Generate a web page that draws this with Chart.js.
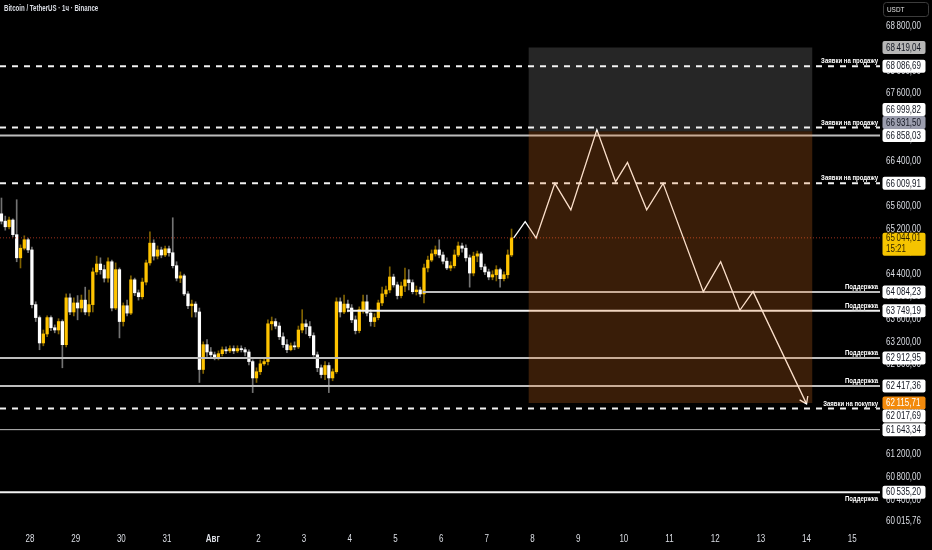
<!DOCTYPE html>
<html>
<head>
<meta charset="utf-8">
<script src="https://cdn.jsdelivr.net/npm/chart.js@4.4.1/dist/chart.umd.min.js"></script>
<style>
  html, body { margin: 0; padding: 0; background: #000; }
  #wrap { width: 932px; height: 550px; }
</style>
</head>
<body>
<div id="wrap"><canvas id="c" width="932" height="550"></canvas></div>
<script>
// BTC/USDT, candles every 2h starting Jul 27 08:00 (x axis = days from Jul 28 00:00)
const candleStart = -16 / 24
const candleStep = 2 / 24

const opens = [65470,65340,65240,65360,65100,64690,64860,65010,64830,63860,
  63630,63180,63340,63630,63450,63410,63560,63150,63980,63730,
  63890,63800,63940,63730,63860,64440,64580,64480,64330,64620,
  63800,64480,63560,63840,63710,64300,64070,64000,64260,64600,
  64950,64720,64830,64740,64850,64780,64550,64330,64370,64050,
  63840,63870,63730,62710,63150,63020,62970,62920,62990,63060,
  63040,63080,63040,63080,63060,63020,62850,62560,62670,62810,
  62850,63520,63560,63480,63290,63150,63060,63130,63110,63410,
  63520,63470,63310,62970,62740,62620,62780,62560,62670,63910,
  63730,63870,63800,63590,63400,63770,63910,63710,63560,63630,
  63890,64050,64120,64350,64210,64020,64190,64300,64250,64090,
  64120,64050,64510,64650,64760,64830,64740,64630,64510,64550,
  64740,64900,64860,64690,64420,64720,64760,64530,64440,64350,
  64390,64480,64320,64390,64740]
const highs = [65750,65430,65410,65380,65720,64920,65080,65040,64880,63910,
  63660,63410,63660,63660,63500,63610,63590,64050,64050,63980,
  64020,64030,64170,64120,64510,64720,64690,64560,64690,64650,
  64600,64510,63890,63940,64370,64330,64120,64330,64650,65150,
  65010,64900,64880,64900,64900,65400,64620,64440,64400,64090,
  63940,63910,63800,63200,63240,63100,63020,63040,63110,63110,
  63130,63130,63130,63130,63100,63060,62880,62740,62880,62920,
  63590,63640,63610,63540,63360,63240,63180,63200,63480,63770,
  63590,63560,63360,63020,62790,62850,62830,62720,63980,63980,
  64030,63940,63860,63660,63820,64030,64030,63770,63700,63940,
  64170,64190,64530,64400,64260,64260,64510,64480,64300,64190,
  64170,64580,64720,64830,64900,65010,64790,64690,64620,64830,
  64970,64950,64920,64740,64790,64810,64790,64580,64490,64460,
  64550,64510,64440,64830,65200]
const lows = [65290,65180,65200,65060,64620,64510,64830,64780,63800,63560,
  63060,63130,63290,63400,63360,63340,62740,63110,63680,63660,
  63590,63730,63680,63660,63730,64390,64400,64260,64260,63750,
  63770,63270,63480,63660,63680,64020,63940,63960,64210,64560,
  64650,64670,64690,64710,64720,64510,64280,64250,64020,63790,
  63640,63640,62480,62640,62940,62920,62880,62880,62950,62990,
  63010,62990,63010,63020,62950,62790,62300,62480,62620,62780,
  62790,63410,63430,63240,63100,63010,63040,63060,63080,63360,
  63340,63270,62940,62670,62560,62530,62300,62510,62640,63640,
  63700,63730,63540,63340,63360,63710,63660,63480,63470,63590,
  63840,64000,64070,64170,63960,63980,64090,64120,64050,64030,
  64000,63890,64440,64620,64720,64690,64580,64480,64460,64510,
  64710,64790,64630,64170,64370,64620,64480,64390,64300,64300,
  64280,64170,64280,64330,64710]
const closes = [65340,65240,65360,65100,64690,64860,65010,64830,63860,63630,
  63180,63340,63630,63450,63410,63560,63150,63980,63730,63890,
  63800,63940,63730,63860,64440,64580,64480,64330,64620,63800,
  64480,63560,63840,63710,64300,64070,64000,64260,64600,64950,
  64720,64830,64740,64850,64780,64550,64330,64370,64050,63840,
  63870,63730,62710,63150,63020,62970,62920,62990,63060,63040,
  63080,63040,63080,63060,63020,62850,62560,62670,62810,62850,
  63520,63560,63480,63290,63150,63060,63130,63110,63410,63520,
  63470,63310,62970,62740,62620,62780,62560,62670,63910,63730,
  63870,63800,63590,63400,63770,63910,63710,63560,63630,63890,
  64050,64120,64350,64210,64020,64190,64300,64250,64090,64120,
  64050,64510,64650,64760,64830,64740,64630,64510,64550,64740,
  64900,64860,64690,64420,64720,64760,64530,64440,64350,64390,
  64480,64320,64390,64740,65044.01]

const dayLabels = ['28','29','30','31','Авг','2','3','4','5','6','7','8','9','10','11','12','13','14','15']
const xMin = -0.657
const xMax = 18.608
const yMin = 59864
const yMax = 69261
const priceStep = 400

// horizontal levels drawn on the chart
const levelPrices = [68086.69, 66999.82, 66858.03, 66009.91, 64084.23, 63749.19, 62912.95, 62417.36, 62017.69, 61643.34, 60535.20]
const levelNotes = ['Заявки на продажу','Заявки на продажу','','Заявки на продажу','Поддержка','Поддержка','Поддержка','Поддержка','Заявки на покупку','','Поддержка']
const levelFrom = [null, null, null, null, 8.6, 6.94, null, null, null, null, null]

const lastPrice = 65044.01
const countdown = '15:21'
const bottomPrice = 60015.76

// projected path
const pathDays = [10.59, 10.84, 11.08, 11.49, 11.84, 12.41, 12.82, 13.08, 13.5, 13.86, 14.74, 15.12, 15.54, 15.83, 17.0]
const pathPrices = [65044.01, 65330, 65040, 66010, 65540, 66960, 66040, 66380, 65540, 66010, 64090, 64620, 63760, 64090, 62100]

// position tool
const boxDays = [10.917, 17.125]
const boxStop = 68419.04
const boxEntry = 66931.50
const boxTarget = 62115.71

const FONT = '"Liberation Sans", Arial, sans-serif'
const UP = '#ffc400', DOWN = '#ffffff'
const NARROW = 0.8

function fmt(p) {
  const parts = p.toFixed(2).split('.')
  return parts[0].replace(/\B(?=(\d{3})+(?!\d))/g, '\u2009') + ',' + parts[1]
}

function narrowText(ctx, s, x, y, k) {
  ctx.save()
  ctx.translate(x, y)
  ctx.scale(k, 1)
  ctx.fillText(s, 0, 0)
  ctx.restore()
}

const candleX = opens.map((o, i) => candleStart + candleStep * (i + 0.5))
const isUp = opens.map((o, i) => closes[i] >= o)

const datasets = []
datasets.push({
  type: 'bar', order: 20, grouped: false, barThickness: 1,
  data: candleX.map((x, i) => ({ x: x, y: [lows[i], highs[i]] })),
  backgroundColor: isUp.map(u => u ? 'rgba(255,196,0,0.5)' : 'rgba(210,210,210,0.55)')
})
datasets.push({
  type: 'bar', order: 19, grouped: false, barThickness: 2.6, minBarLength: 1,
  data: candleX.map((x, i) => ({ x: x, y: [opens[i], closes[i]] })),
  backgroundColor: isUp.map(u => u ? UP : DOWN)
})

const whiteLevels = [63749.19, 60535.20]
levelPrices.forEach((p, i) => {
  const dashed = levelNotes[i].startsWith('Заявки')
  const white = dashed || whiteLevels.includes(p)
  datasets.push({
    type: 'line', order: 10,
    data: [{ x: levelFrom[i] ?? xMin, y: p }, { x: xMax, y: p }],
    borderColor: white ? '#f2f2f2' : '#bdbdbd',
    borderWidth: p === 61643.34 ? 1 : 2,
    borderDash: dashed ? [6, 6] : [],
    pointRadius: 0
  })
})
datasets.push({
  type: 'line', order: 9,
  data: [{ x: xMin, y: lastPrice }, { x: xMax, y: lastPrice }],
  borderColor: '#a0321e', borderWidth: 1, borderDash: [1, 2], pointRadius: 0
})
datasets.push({
  type: 'line', order: 8,
  data: pathDays.map((d, i) => ({ x: d, y: pathPrices[i] })),
  borderColor: '#ffffff', borderWidth: 1.3, pointRadius: 0, tension: 0
})
const pathIndex = datasets.length - 1

const overlay = {
  id: 'overlay',
  afterDatasetsDraw(chart) {
    const { ctx, scales: { x, y }, chartArea } = chart
    const x0 = x.getPixelForValue(boxDays[0]), x1 = x.getPixelForValue(boxDays[1])
    ctx.save()
    // arrow head at end of path
    const pts = chart.getDatasetMeta(pathIndex).data
    const a = pts[pts.length - 2], b = pts[pts.length - 1]
    const ang = Math.atan2(b.y - a.y, b.x - a.x)
    ctx.strokeStyle = '#ffffff'; ctx.lineWidth = 1.3
    ctx.beginPath()
    ctx.moveTo(b.x - 8 * Math.cos(ang - 0.6), b.y - 8 * Math.sin(ang - 0.6))
    ctx.lineTo(b.x, b.y)
    ctx.lineTo(b.x - 8 * Math.cos(ang + 0.6), b.y - 8 * Math.sin(ang + 0.6))
    ctx.stroke()
    // position boxes
    const yS = y.getPixelForValue(boxStop), yE = y.getPixelForValue(boxEntry), yT = y.getPixelForValue(boxTarget)
    ctx.fillStyle = 'rgba(255,255,255,0.15)'
    ctx.fillRect(x0, yS, x1 - x0, yE - yS)
    ctx.fillStyle = 'rgba(238,122,34,0.24)'
    ctx.fillRect(x0, yE, x1 - x0, yT - yE)
    // level notes
    ctx.font = 'bold 7.5px ' + FONT
    ctx.fillStyle = '#ffffff'
    ctx.textAlign = 'right'; ctx.textBaseline = 'middle'
    ctx.shadowColor = 'rgba(0,0,0,0.9)'; ctx.shadowBlur = 2
    levelPrices.forEach((p, i) => {
      if (!levelNotes[i]) return
      const py = y.getPixelForValue(p)
      const below = i === levelPrices.length - 1
      narrowText(ctx, levelNotes[i], chartArea.right - 2, below ? py + 7 : py - 5, NARROW)
    })
    ctx.restore()
  },
  afterDraw(chart) {
    const { ctx, scales: { x, y } } = chart
    ctx.save()
    ctx.textBaseline = 'middle'
    // time axis labels
    ctx.fillStyle = '#dcdfe6'; ctx.textAlign = 'center'
    x.ticks.forEach(t => {
      const lab = dayLabels[Math.round(t.value)]
      if (lab === undefined) return
      ctx.font = (lab === 'Авг' ? 'bold ' : '') + '10px ' + FONT
      narrowText(ctx, lab, x.getPixelForValue(t.value), 539, NARROW)
    })
    // price axis labels
    ctx.textAlign = 'left'
    ctx.font = '10px ' + FONT
    const yBottom = y.getPixelForValue(bottomPrice)
    y.ticks.forEach(t => {
      const py = y.getPixelForValue(t.value)
      if (Math.abs(py - yBottom) < 11 || py < 18) return
      narrowText(ctx, fmt(t.value), 886, py, NARROW)
    })
    narrowText(ctx, fmt(bottomPrice), 886, yBottom, NARROW)
    // header
    ctx.font = 'bold 8.5px ' + FONT
    narrowText(ctx, 'Bitcoin / TetherUS · 1ч · Binance', 4, 9, 0.72)
    // currency box
    ctx.fillStyle = '#000'; ctx.strokeStyle = '#3c3c3c'; ctx.lineWidth = 1
    ctx.beginPath(); ctx.roundRect(883.5, 2.5, 45, 14, 3); ctx.fill(); ctx.stroke()
    ctx.font = '8px ' + FONT; ctx.fillStyle = '#e6e6e6'
    narrowText(ctx, 'USDT', 887, 10, NARROW)

    // price tags
    const tags = []
    levelPrices.forEach(p => tags.push({ p, kind: 'line' }))
    tags.push({ p: boxStop, kind: 'stop' }, { p: boxEntry, kind: 'entry' }, { p: boxTarget, kind: 'target' }, { p: lastPrice, kind: 'last' })
    const prio = { entry: 0, line: 1, stop: 1, target: 3, last: 5 }
    tags.forEach(t => { t.y = y.getPixelForValue(t.p) })
    tags.sort((m, n) => m.y - n.y)
    const H = 13
    const clusters = []
    tags.forEach(t => {
      const cl = clusters[clusters.length - 1]
      if (cl && t.y - cl[cl.length - 1].y < H) cl.push(t); else clusters.push([t])
    })
    clusters.forEach(cl => {
      let k = 0
      cl.forEach((t, i) => { if (prio[t.kind] >= prio[cl[k].kind]) k = i })
      cl[k].py = cl[k].y
      for (let i = k - 1; i >= 0; i--) cl[i].py = Math.min(cl[i].y, cl[i + 1].py - H)
      for (let i = k + 1; i < cl.length; i++) cl[i].py = Math.max(cl[i].y, cl[i - 1].py + H)
    })
    const look = {
      line: ['#ffffff', '#131722'], stop: ['#b6b6b6', '#131722'], entry: ['#9c9eae', '#131722'],
      target: ['#f28a0c', '#ffffff'], last: ['#f5c400', '#2a1f00']
    }
    ctx.font = '10px ' + FONT
    tags.forEach(t => {
      const [bg, fg] = look[t.kind]
      const h = t.kind === 'last' ? 23 : H
      const top = t.kind === 'last' ? t.py - 5 : t.py - 6.5
      ctx.fillStyle = bg
      ctx.beginPath(); ctx.roundRect(882.5, top, 43, h, 2); ctx.fill()
      ctx.fillStyle = fg
      narrowText(ctx, fmt(t.p), 886, t.py + 0.5, NARROW)
      if (t.kind === 'last') narrowText(ctx, countdown, 886, t.py + 11, NARROW)
    })
    ctx.restore()
  }
}

new Chart(document.getElementById('c'), {
  type: 'bar',
  data: { datasets },
  options: {
    responsive: false,
    animation: false,
    events: [],
    layout: { padding: 0 },
    plugins: { legend: { display: false }, tooltip: { enabled: false } },
    scales: {
      x: {
        type: 'linear', min: xMin, max: xMax, offset: false,
        grid: { display: false, drawTicks: false },
        border: { display: false },
        afterFit(scale) { scale.height = 20 },
        ticks: { display: false, stepSize: 1, autoSkip: false, includeBounds: false }
      },
      y: {
        type: 'linear', position: 'right', min: yMin, max: yMax,
        grid: { display: false, drawTicks: false },
        border: { display: false },
        afterFit(scale) { scale.width = 52 },
        ticks: { display: false, stepSize: priceStep, autoSkip: false, includeBounds: false }
      }
    }
  },
  plugins: [overlay]
})
</script>
</body>
</html>
